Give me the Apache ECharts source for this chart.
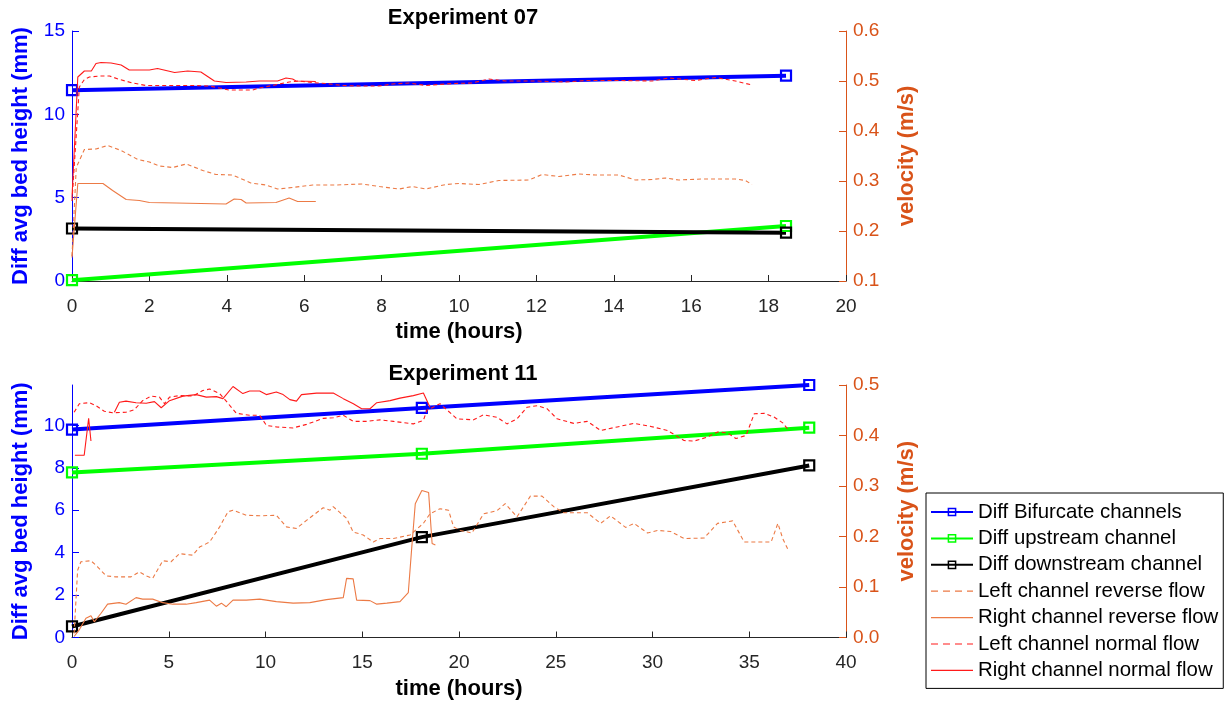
<!DOCTYPE html>
<html>
<head>
<meta charset="utf-8">
<title>Bed height and velocity</title>
<script src="https://cdn.jsdelivr.net/npm/echarts@6/dist/echarts.min.js"></script>
<style>
  html, body { margin: 0; padding: 0; background: #fff; }
  #chart { width: 1232px; height: 708px; }
</style>
</head>
<body>
<div id="chart"></div>
<script>
const FONT = "'Liberation Sans', Arial, Helvetica, sans-serif";

// ---- Experiment 07: bed-height differences (mm) at survey times (hours)
const e07Times = [0, 18.45];
const e07Bifurcate = [11.45, 12.32];
const e07Upstream = [0.05, 3.3];
const e07Downstream = [3.15, 2.9];

// ---- Experiment 07: channel velocities, [hours, m/s]
const e07LeftReverse = [
  [0, 0.15], [0.11, 0.327], [0.32, 0.363], [0.62, 0.364], [0.92, 0.371], [1.27, 0.361],
  [1.70, 0.343], [2.0, 0.338], [2.26, 0.330], [2.60, 0.327], [2.95, 0.334], [3.38, 0.321],
  [3.72, 0.313], [4.15, 0.312], [4.62, 0.296], [5.01, 0.292], [5.31, 0.284], [5.70, 0.287],
  [6.22, 0.292], [6.82, 0.292], [7.50, 0.294], [7.94, 0.289], [8.45, 0.284], [8.80, 0.289],
  [9.14, 0.284], [9.66, 0.293], [10.0, 0.295], [10.52, 0.293], [11.03, 0.301], [11.81, 0.302],
  [12.15, 0.313], [12.58, 0.309], [13.10, 0.314], [13.53, 0.312], [14.13, 0.312], [14.56, 0.302],
  [14.99, 0.303], [15.33, 0.306], [15.68, 0.302], [16.28, 0.304], [17.14, 0.304], [17.40, 0.301],
  [17.57, 0.293]
];
const e07RightReverse = [
  [0, 0.147], [0.15, 0.295], [0.80, 0.295], [1.05, 0.281], [1.40, 0.263], [1.74, 0.261],
  [2.0, 0.257], [2.69, 0.256], [3.98, 0.254], [4.19, 0.264], [4.37, 0.263], [4.50, 0.256],
  [5.27, 0.257], [5.61, 0.266], [5.83, 0.259], [6.30, 0.259]
];
const e07LeftNormal = [
  [0, 0.26], [0.19, 0.488], [0.32, 0.503], [0.45, 0.508], [0.71, 0.510], [0.97, 0.510],
  [1.23, 0.503], [1.57, 0.496], [1.91, 0.491], [2.43, 0.491], [3.12, 0.491], [3.55, 0.490],
  [4.06, 0.482], [4.67, 0.482], [4.84, 0.486], [5.18, 0.491], [5.61, 0.498], [5.87, 0.500],
  [6.21, 0.497], [6.56, 0.495], [6.99, 0.491], [7.42, 0.490], [7.94, 0.490], [8.28, 0.494],
  [8.71, 0.496], [9.14, 0.491], [9.83, 0.495], [10.34, 0.496], [10.77, 0.504], [11.2, 0.500],
  [11.98, 0.500], [12.75, 0.498], [13.27, 0.501], [14.13, 0.501], [14.99, 0.500], [15.42, 0.506],
  [16.11, 0.501], [16.62, 0.507], [17.14, 0.500], [17.57, 0.492]
];
const e07RightNormal = [
  [0, 0.267], [0.15, 0.508], [0.32, 0.520], [0.50, 0.520], [0.62, 0.535], [0.75, 0.537],
  [1.01, 0.536], [1.27, 0.532], [1.48, 0.522], [2.0, 0.522], [2.21, 0.525], [2.65, 0.517],
  [2.99, 0.520], [3.33, 0.518], [3.68, 0.500], [3.98, 0.497], [4.50, 0.498], [4.84, 0.500],
  [5.31, 0.500], [5.53, 0.506], [5.70, 0.504], [5.79, 0.500], [6.30, 0.499]
];

// ---- Experiment 11: bed-height differences (mm) at survey times (hours)
const e11Times = [0, 18.08, 38.1];
const e11Bifurcate = [9.8, 10.82, 11.9];
const e11Upstream = [7.78, 8.66, 9.89];
const e11Downstream = [0.52, 4.73, 8.11];

// ---- Experiment 11: channel velocities, [hours, m/s]
const e11LeftReverse = [
  [0.11, 0.008], [0.29, 0.133], [0.46, 0.150], [0.98, 0.152], [1.32, 0.140], [1.76, 0.122],
  [2.27, 0.120], [3.05, 0.120], [3.48, 0.130], [3.83, 0.122], [4.17, 0.117], [4.69, 0.152],
  [5.12, 0.150], [5.55, 0.166], [6.24, 0.163], [6.59, 0.179], [7.11, 0.189], [7.63, 0.219],
  [8.06, 0.249], [8.32, 0.252], [9.01, 0.242], [9.70, 0.241], [10.56, 0.242], [11.08, 0.219],
  [11.6, 0.216], [12.12, 0.232], [12.98, 0.257], [13.33, 0.252], [13.50, 0.259], [14.19, 0.236],
  [14.53, 0.209], [15.05, 0.203], [15.57, 0.189], [15.92, 0.196], [16.61, 0.196], [17.47, 0.203],
  [18.16, 0.226], [18.5, 0.245], [19.02, 0.255], [19.46, 0.252], [19.72, 0.219], [20.06, 0.212],
  [20.67, 0.207], [21.27, 0.245], [21.96, 0.251], [22.39, 0.265], [23.0, 0.239], [23.69, 0.280],
  [24.29, 0.280], [24.90, 0.259], [25.41, 0.247], [26.63, 0.247], [27.32, 0.226], [27.83, 0.241],
  [28.61, 0.218], [29.04, 0.226], [29.74, 0.207], [30.25, 0.212], [30.94, 0.210], [31.63, 0.196],
  [32.67, 0.197], [33.36, 0.226], [34.14, 0.231], [34.74, 0.189], [36.13, 0.189], [36.48, 0.226],
  [36.73, 0.196], [36.99, 0.175]
];
const e11RightReverse = [
  [0.11, 0.002], [0.37, 0.015], [0.72, 0.038], [0.98, 0.043], [1.15, 0.031], [1.50, 0.048],
  [1.84, 0.066], [2.44, 0.069], [2.79, 0.066], [3.31, 0.079], [3.65, 0.076], [4.17, 0.076],
  [4.69, 0.069], [5.21, 0.066], [5.90, 0.066], [6.42, 0.069], [7.11, 0.074], [7.46, 0.062],
  [7.72, 0.068], [7.97, 0.061], [8.32, 0.074], [9.01, 0.074], [9.70, 0.076], [10.56, 0.071],
  [11.43, 0.068], [12.29, 0.069], [13.15, 0.075], [14.02, 0.079], [14.19, 0.117], [14.53, 0.116],
  [14.71, 0.074], [15.40, 0.073], [15.75, 0.066], [16.27, 0.068], [16.95, 0.071], [17.38, 0.089],
  [17.56, 0.179], [17.74, 0.265], [18.08, 0.291], [18.43, 0.287], [18.61, 0.186], [18.78, 0.183]
];
const e11LeftNormal = [
  [0.11, 0.446], [0.38, 0.463], [0.89, 0.465], [1.24, 0.459], [1.67, 0.448], [2.10, 0.445],
  [2.79, 0.446], [3.22, 0.451], [3.65, 0.469], [4.09, 0.478], [4.52, 0.476], [4.78, 0.463],
  [5.04, 0.476], [5.55, 0.479], [6.24, 0.478], [6.76, 0.489], [7.11, 0.492], [7.63, 0.483],
  [7.97, 0.468], [8.49, 0.444], [9.18, 0.440], [9.70, 0.440], [10.05, 0.420], [10.56, 0.417],
  [11.43, 0.415], [12.12, 0.422], [12.98, 0.434], [13.50, 0.435], [14.02, 0.440], [14.54, 0.428],
  [15.23, 0.428], [15.92, 0.431], [16.61, 0.428], [17.64, 0.423], [18.16, 0.430], [18.34, 0.450],
  [19.02, 0.463], [19.37, 0.451], [19.89, 0.433], [20.75, 0.431], [21.27, 0.441], [21.96, 0.436],
  [22.48, 0.423], [23.0, 0.433], [23.52, 0.456], [24.04, 0.459], [24.55, 0.453], [25.07, 0.433],
  [25.93, 0.424], [26.63, 0.428], [27.32, 0.410], [28.18, 0.417], [29.04, 0.424], [29.91, 0.418],
  [30.77, 0.410], [31.63, 0.390], [32.15, 0.389], [32.84, 0.397], [33.36, 0.407], [33.88, 0.405],
  [34.31, 0.394], [34.83, 0.400], [35.26, 0.443], [35.78, 0.444], [36.30, 0.436], [36.73, 0.425],
  [37.07, 0.409]
];
const e11RightNormal = [
  [0.15, 0.361], [0.63, 0.361], [0.86, 0.434], [0.98, 0.389], [1.5, null],
  [2.19, 0.446], [2.45, 0.466], [2.79, 0.468], [3.31, 0.465], [3.83, 0.464], [4.26, 0.467],
  [4.61, 0.455], [5.04, 0.469], [5.73, 0.478], [6.42, 0.481], [6.94, 0.476], [7.46, 0.477],
  [7.80, 0.473], [8.32, 0.497], [8.83, 0.483], [9.18, 0.488], [9.70, 0.488], [10.04, 0.481],
  [10.56, 0.486], [10.91, 0.481], [11.26, 0.471], [11.6, 0.468], [11.86, 0.481], [12.64, 0.484],
  [13.50, 0.484], [14.02, 0.473], [14.54, 0.463], [14.97, 0.453], [15.40, 0.453], [15.75, 0.465],
  [16.44, 0.469], [16.95, 0.474], [17.64, 0.479], [18.16, 0.484], [18.50, 0.456]
];

// ---- Tick values
const e07HoursTicks = { min: 0, max: 20, interval: 2 };
const e07HeightTicks = { min: 0, max: 15, interval: 5 };
const e07VelocityTicks = { min: 0.1, max: 0.6, interval: 0.1 };
const e11HoursTicks = { min: 0, max: 40, interval: 5 };
const e11HeightTickValues = [0, 2, 4, 6, 8, 10];
const e11HeightMax = 11.9;
const e11VelocityTicks = { min: 0, max: 0.5, interval: 0.1 };

// ---- Series names and colours
const NAMES = {
  bif: 'Diff Bifurcate channels',
  up: 'Diff upstream channel',
  down: 'Diff downstream channel',
  lRev: 'Left channel reverse flow',
  rRev: 'Right channel reverse flow',
  lNorm: 'Left channel normal flow',
  rNorm: 'Right channel normal flow'
};
const BLUE = '#0000FF', GREEN = '#00FF00', BLACK = '#000000';
const ORANGE_AXIS = '#D95319', ORANGE_LINE = '#EC7A45', RED = '#FF1A1A';
const GRAY = '#262626';

const pairs = (t, v) => t.map((x, i) => [x, v[i]]);

function heightSeries(name, color, times, values, gi) {
  return {
    name, type: 'line', xAxisIndex: gi, yAxisIndex: gi * 2,
    data: pairs(times, values),
    symbol: 'rect', symbolSize: 10,
    lineStyle: { color, width: 4 },
    itemStyle: { color: 'rgba(0,0,0,0)', borderColor: color, borderWidth: 2.2 },
    emphasis: { disabled: true }, z: 2
  };
}
function velocitySeries(name, color, dashed, data, gi) {
  return {
    name, type: 'line', xAxisIndex: gi, yAxisIndex: gi * 2 + 1,
    data, symbol: 'none', connectNulls: false,
    lineStyle: { color, width: 1.1, type: dashed ? [4, 3] : 'solid' },
    itemStyle: { color },
    emphasis: { disabled: true }, z: 3
  };
}

const tickLabel = (color) => ({ color, fontFamily: FONT, fontSize: 19, margin: 7 });
const axisName = (color) => ({ color, fontFamily: FONT, fontSize: 22, fontWeight: 'bold' });

function xAxis(gi, ticks) {
  return {
    type: 'value', gridIndex: gi, min: ticks.min, max: ticks.max, interval: ticks.interval,
    name: 'time (hours)', nameLocation: 'middle', nameGap: 40,
    nameTextStyle: axisName('#000'),
    axisLine: { show: true, onZero: false, lineStyle: { color: GRAY, width: 1 } },
    axisTick: { show: true, inside: true, length: 6, lineStyle: { color: GRAY } },
    axisLabel: Object.assign(tickLabel(GRAY), { margin: 16 }),
    splitLine: { show: false }
  };
}
function leftAxis(gi, cfg) {
  return Object.assign({
    type: 'value', gridIndex: gi, position: 'left',
    name: 'Diff avg bed height (mm)', nameLocation: 'middle', nameRotate: 90, nameGap: 40,
    nameTextStyle: axisName(BLUE),
    axisLine: { show: true, onZero: false, lineStyle: { color: BLUE, width: 1 } },
    axisTick: { show: true, inside: true, length: 7, lineStyle: { color: BLUE } },
    axisLabel: tickLabel(BLUE),
    splitLine: { show: false }
  }, cfg);
}
function rightAxis(gi, ticks) {
  return {
    type: 'value', gridIndex: gi, position: 'right',
    min: ticks.min, max: ticks.max, interval: ticks.interval,
    name: 'velocity (m/s)', nameLocation: 'middle', nameRotate: 90, nameGap: 50,
    nameTextStyle: axisName(ORANGE_AXIS),
    axisLine: { show: true, onZero: false, lineStyle: { color: ORANGE_AXIS, width: 1 } },
    axisTick: { show: true, inside: true, length: 7, lineStyle: { color: ORANGE_AXIS } },
    axisLabel: Object.assign(tickLabel(ORANGE_AXIS), { formatter: v => (+v).toFixed(1) }),
    splitLine: { show: false }
  };
}

// legend entries: thick lines keep their square marker, flow lines show only the line
const markerEntry = (name) => ({ name, lineStyle: { width: 2 }, itemStyle: { borderWidth: 1.5 } });
const plainEntry = (name, dashed) => ({
  name, itemStyle: { opacity: 0 },
  lineStyle: { width: 1.2, type: dashed ? [7, 5] : 'solid' }
});

const option = {
  animation: false,
  backgroundColor: '#ffffff',
  title: [
    { text: 'Experiment 07', left: 458, top: 2, textAlign: 'center',
      textStyle: { fontFamily: FONT, fontSize: 22, fontWeight: 'bold', color: '#000' } },
    { text: 'Experiment 11', left: 458, top: 358, textAlign: 'center',
      textStyle: { fontFamily: FONT, fontSize: 22, fontWeight: 'bold', color: '#000' } }
  ],
  grid: [
    { left: 72, top: 31, width: 774, height: 250 },
    { left: 72, top: 385, width: 774, height: 252.5 }
  ],
  xAxis: [xAxis(0, e07HoursTicks), xAxis(1, e11HoursTicks)],
  yAxis: [
    leftAxis(0, { min: e07HeightTicks.min, max: e07HeightTicks.max, interval: e07HeightTicks.interval }),
    rightAxis(0, e07VelocityTicks),
    leftAxis(1, {
      min: 0, max: e11HeightMax,
      axisTick: { show: true, inside: true, length: 7, lineStyle: { color: BLUE }, customValues: e11HeightTickValues },
      axisLabel: Object.assign(tickLabel(BLUE), { customValues: e11HeightTickValues })
    }),
    rightAxis(1, e11VelocityTicks)
  ],
  legend: {
    orient: 'vertical', left: 926, top: 493,
    padding: [9, 5, 8, 4], itemGap: 6.4, itemWidth: 42, itemHeight: 9,
    backgroundColor: '#fff', borderColor: '#000', borderWidth: 1, borderRadius: 0,
    textStyle: { fontFamily: FONT, fontSize: 20.4, color: '#000' },
    selectedMode: false,
    data: [
      markerEntry(NAMES.bif), markerEntry(NAMES.up), markerEntry(NAMES.down),
      plainEntry(NAMES.lRev, true), plainEntry(NAMES.rRev, false),
      plainEntry(NAMES.lNorm, true), plainEntry(NAMES.rNorm, false)
    ]
  },
  series: [
    heightSeries(NAMES.bif, BLUE, e07Times, e07Bifurcate, 0),
    heightSeries(NAMES.up, GREEN, e07Times, e07Upstream, 0),
    heightSeries(NAMES.down, BLACK, e07Times, e07Downstream, 0),
    velocitySeries(NAMES.lRev, ORANGE_LINE, true, e07LeftReverse, 0),
    velocitySeries(NAMES.rRev, ORANGE_LINE, false, e07RightReverse, 0),
    velocitySeries(NAMES.lNorm, RED, true, e07LeftNormal, 0),
    velocitySeries(NAMES.rNorm, RED, false, e07RightNormal, 0),

    heightSeries(NAMES.bif, BLUE, e11Times, e11Bifurcate, 1),
    heightSeries(NAMES.up, GREEN, e11Times, e11Upstream, 1),
    heightSeries(NAMES.down, BLACK, e11Times, e11Downstream, 1),
    velocitySeries(NAMES.lRev, ORANGE_LINE, true, e11LeftReverse, 1),
    velocitySeries(NAMES.rRev, ORANGE_LINE, false, e11RightReverse, 1),
    velocitySeries(NAMES.lNorm, RED, true, e11LeftNormal, 1),
    velocitySeries(NAMES.rNorm, RED, false, e11RightNormal, 1)
  ]
};

const chart = echarts.init(document.getElementById('chart'), null, { renderer: 'canvas' });
chart.setOption(option);
</script>
</body>
</html>
